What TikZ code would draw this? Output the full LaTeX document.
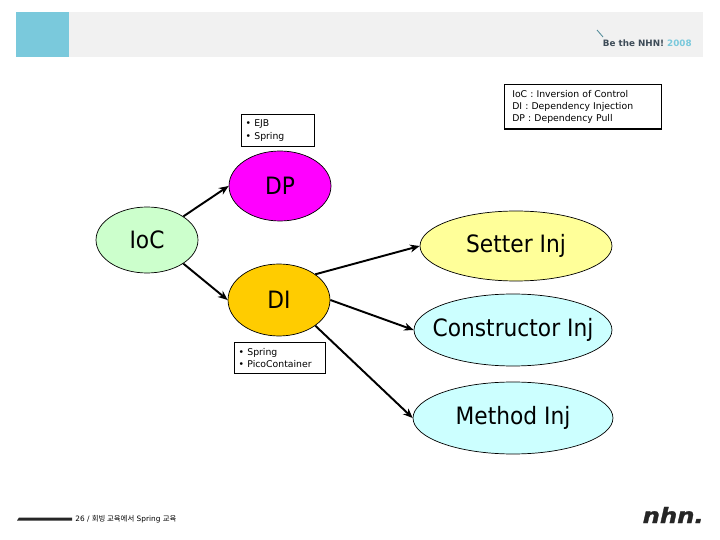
\documentclass[tikz,border=0pt]{standalone}
\usepackage{fontspec}
\setmainfont{DejaVu Sans}
\newfontfamily\korfont{Noto Sans CJK KR}
\newfontfamily\conceptfont[FakeStretch=0.91]{DejaVu Sans}
\newfontfamily\logofont[FakeStretch=1.15,FakeBold=1.5]{DejaVu Sans Bold Oblique}
\usepackage{tikz}
\usetikzlibrary{arrows.meta,positioning,shapes.geometric}
\definecolor{bandgray}{RGB}{241,241,241}
\definecolor{bandblue}{RGB}{122,201,220}
\definecolor{slogangray}{RGB}{62,76,88}
\definecolor{dpcolor}{RGB}{255,0,255}
\definecolor{ioccolor}{RGB}{204,255,204}
\definecolor{dicolor}{RGB}{255,204,0}
\definecolor{settercolor}{RGB}{255,255,153}
\definecolor{ctorcolor}{RGB}{204,255,255}
\tikzset{
  concept/.style={draw,ellipse,inner sep=0pt,font=\conceptfont\fontsize{13.6}{15}\selectfont},
  notebox/.style={draw,line width=0.6pt,align=left,anchor=north west,inner xsep=2.4pt,inner ysep=3.2pt,
    font=\fontsize{5.3}{6.9}\selectfont},
  link/.style={-{Stealth[length=5.5pt,width=4.5pt]},line width=1.1pt},
}

\begin{document}
\begin{tikzpicture}[x=0.02cm,y=-0.02cm]
        \useasboundingbox (0,0) rectangle (720,540);
        % header band
        \fill[bandgray] (16,12) rectangle (703,57);
        \fill[bandblue] (16,12) rectangle (69,57);
        \draw[bandblue!70!black,line width=0.5pt] (597,30) -- (603,37);
        \node[anchor=east,inner sep=0pt,font=\fontsize{5}{6}\selectfont\bfseries,text=slogangray]
          (slogan) at (692,43) {Be the NHN! \textcolor{bandblue}{2008}};
        % ellipses
        \node[concept,fill=dpcolor,minimum width=2.04cm,minimum height=1.4cm]
          (dp) at (280,186) {DP};
        \node[concept,fill=ioccolor,minimum width=2.04cm,minimum height=1.32cm]
          (ioc) at (147,240) {IoC};
        \node[concept,fill=dicolor,minimum width=2.04cm,minimum height=1.44cm]
          (di) at (279,300) {DI};
        \node[concept,fill=settercolor,minimum width=3.84cm,minimum height=1.4cm]
          (setter) at (516,246) {Setter Inj};
        \node[concept,fill=ctorcolor,minimum width=3.96cm,minimum height=1.44cm]
          (ctor) at (513,330) {\makebox[0pt]{Constructor Inj}};
        \node[concept,fill=ctorcolor,minimum width=4.0cm,minimum height=1.44cm]
          (method) at (513,418) {Method Inj};
        % notes
        \node[notebox,text width=1.3cm] (dpnote) at (241,114)
          {\textbullet\ EJB\\\textbullet\ Spring};
        \node[notebox,text width=1.65cm] (dinote) at (234,342)
          {\textbullet\ Spring\\\textbullet\ PicoContainer};
        \node[notebox,inner xsep=4.4pt,text width=2.83cm] (legend) at (504,84)
          {IoC : Inversion of Control\\DI : Dependency Injection\\DP : Dependency Pull};
        % connectors
        \draw[link] (ioc.north east) -- (dp.west);
        \draw[link] (ioc.south east) -- (di.west);
        \draw[link] (di.north east) -- (setter.west);
        \draw[link] (di.east) -- (ctor.west);
        \draw[link] (di.south east) -- (method.west);
        % footer
        \fill[black!85] (17,520.5) -- (19,517.5) -- (72,517.5) -- (72,520.5) -- cycle;
        \node[anchor=west,inner sep=0pt,font=\fontsize{4.2}{5}\selectfont]
          (footer) at (75,519) {26 / {\korfont 회빙 교육에서} Spring {\korfont 교육}};
        \node[anchor=east,inner sep=0pt,font=\logofont\fontsize{12}{14}\selectfont,text=black!85]
          (logo) at (704,515) {nhn.};
      \end{tikzpicture}
\end{document}
